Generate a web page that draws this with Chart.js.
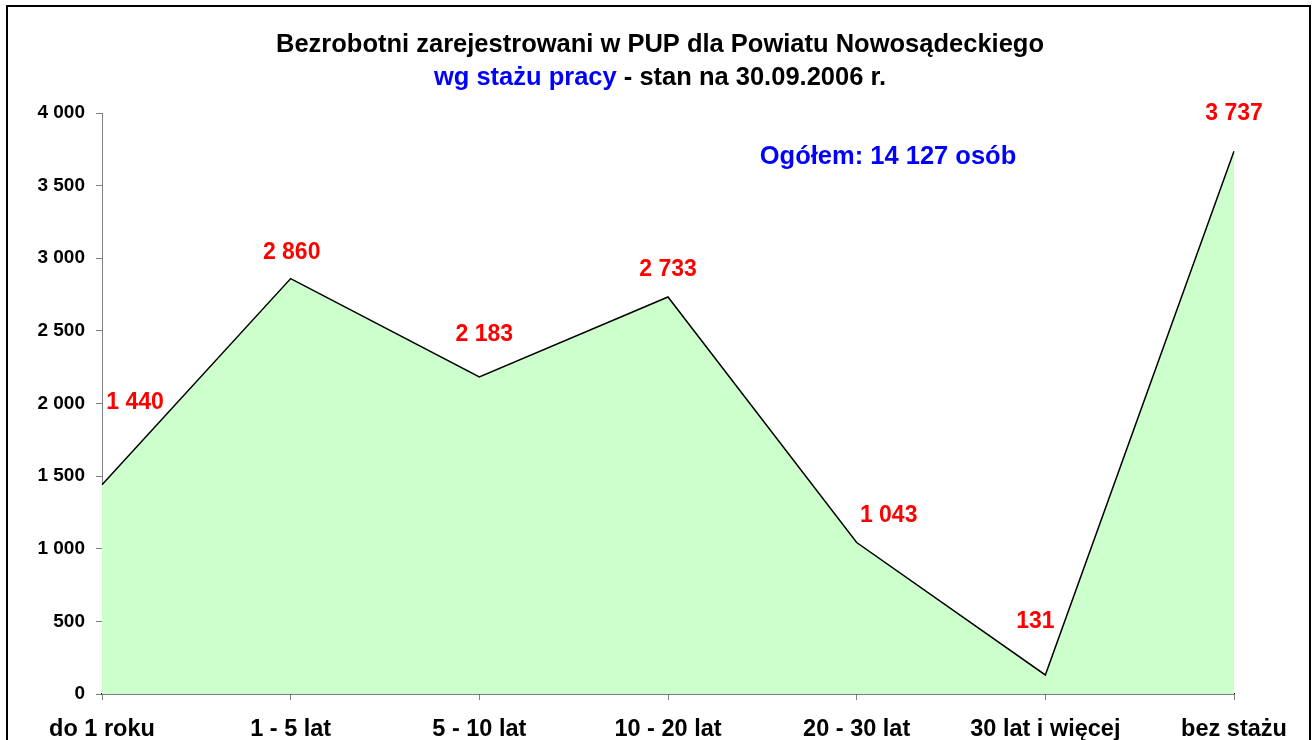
<!DOCTYPE html>
<html>
<head>
<meta charset="utf-8">
<script src="https://cdn.jsdelivr.net/npm/chart.js@4"></script>
<style>
  html, body { margin: 0; padding: 0; background: #fff; }
  #wrap { width: 1313px; height: 740px; }
</style>
</head>
<body>
<div id="wrap"><canvas id="stazChart" width="1313" height="740"></canvas></div>
<script>
const categories = ['do 1 roku', '1 - 5 lat', '5 - 10 lat', '10 - 20 lat', '20 - 30 lat', '30 lat i więcej', 'bez stażu'];
const unemployed = [1440, 2860, 2183, 2733, 1043, 131, 3737];
const yTicks = [0, 500, 1000, 1500, 2000, 2500, 3000, 3500, 4000];
const totalLabel = 'Ogółem: 14 127 osób';

const FONT = '"Liberation Sans", Arial, sans-serif';

function fmt(v) {
  return String(v).replace(/\B(?=(\d{3})+(?!\d))/g, ' ');
}

// label offsets (px) for the red values, as placed in the original
const labelOffsets = [[33, -82], [1, -26], [5, -42], [0, -27], [32, -27], [-10, -53], [0, -38]];

const decorations = {
  id: 'decorations',
  afterDraw(chart) {
    const ctx = chart.ctx;
    ctx.save();

    // frame
    ctx.strokeStyle = '#000';
    ctx.lineWidth = 2;
    ctx.beginPath();
    ctx.moveTo(7, 760);
    ctx.lineTo(7, 6);
    ctx.lineTo(1310, 6);
    ctx.lineTo(1310, 760);
    ctx.stroke();

    // title
    ctx.textBaseline = 'middle';
    ctx.textAlign = 'center';
    ctx.fillStyle = '#000';
    ctx.font = 'bold 25.5px ' + FONT;
    ctx.fillText('Bezrobotni zarejestrowani w PUP dla Powiatu Nowosądeckiego', 660, 45);

    const partA = 'wg stażu pracy';
    const partB = ' - stan na 30.09.2006 r.';
    const wA = ctx.measureText(partA).width;
    const wB = ctx.measureText(partB).width;
    let x0 = 660 - (wA + wB) / 2;
    ctx.textAlign = 'left';
    ctx.fillStyle = '#0000ff';
    ctx.fillText(partA, x0, 78);
    ctx.fillStyle = '#000';
    ctx.fillText(partB, x0 + wA, 78);

    // total
    ctx.textAlign = 'center';
    ctx.fillStyle = '#0000ff';
    ctx.font = 'bold 25.5px ' + FONT;
    ctx.fillText(totalLabel, 888, 157);

    // value labels
    const meta = chart.getDatasetMeta(0);
    ctx.fillStyle = '#ff0000';
    ctx.font = 'bold 23px ' + FONT;
    meta.data.forEach((pt, i) => {
      const off = labelOffsets[i];
      ctx.fillText(fmt(unemployed[i]), pt.x + off[0], pt.y + off[1]);
    });

    ctx.restore();
  }
};

new Chart(
  document.getElementById('stazChart'),
  {
    type: 'line',

    data: {
      labels: categories,

      datasets: [{
        label: 'Bezrobotni',
        data: unemployed,
        borderColor: '#000',
        borderWidth: 1.5,
        backgroundColor: '#ccffcc',
        fill: 'origin',
        pointRadius: 0,
        tension: 0
      }]
    },

    options: {
      responsive: false,
      animation: false,
      layout: { padding: { left: 0, top: 113, right: 79, bottom: 0 } },
      plugins: {
        legend: { display: false },
        tooltip: { enabled: false },
        title: { display: false }
      },
      scales: {
        x: {
          offset: false,
          border: { color: '#000', width: 1.5 },
          grid: { drawOnChartArea: false, drawTicks: true, tickLength: 6, tickColor: '#808080', offset: false },
          ticks: {
            color: '#000',
            font: { family: FONT, size: 23.5, weight: 'bold' },
            padding: 15,
            maxRotation: 0,
            autoSkip: false
          },
          afterFit(scale) { scale.height = 46; }
        },
        y: {
          min: 0,
          max: 4000,
          afterBuildTicks(scale) { scale.ticks = yTicks.map(v => ({ value: v })); },
          border: { color: '#808080', width: 1 },
          grid: { drawOnChartArea: false, drawTicks: true, tickLength: 6, tickColor: '#808080' },
          ticks: {
            color: '#000',
            font: { family: FONT, size: 19, weight: 'bold' },
            padding: 11,
            callback: v => fmt(v)
          },
          afterFit(scale) { scale.width = 102; }
        }
      }
    },

    plugins: [decorations]
  }
);
</script>
</body>
</html>
